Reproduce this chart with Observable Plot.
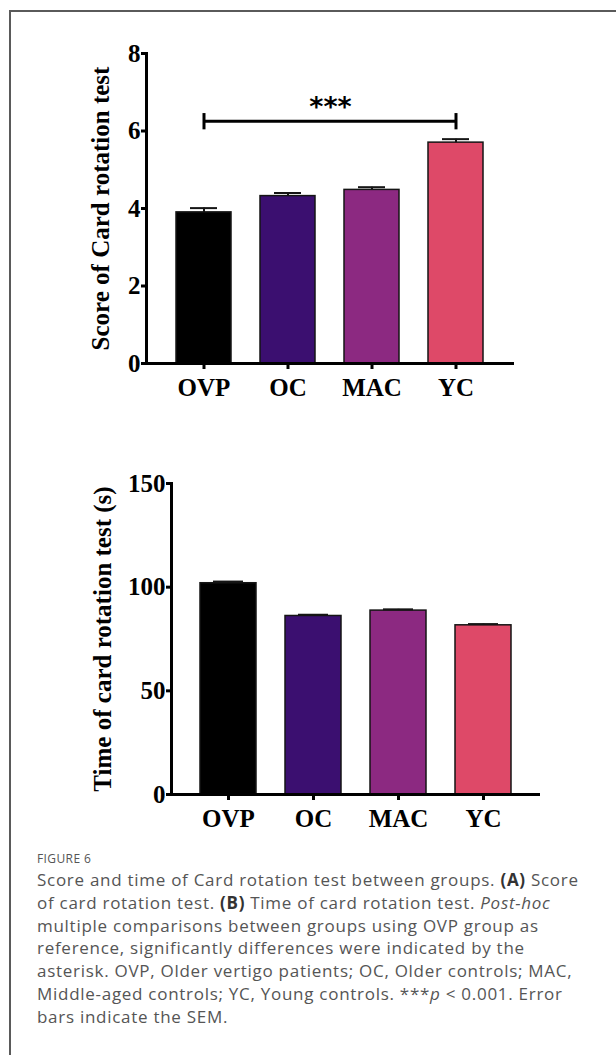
<!DOCTYPE html>
<html>
<head>
<meta charset="utf-8">
<script src="https://cdn.jsdelivr.net/npm/d3@7"></script>
<script src="https://cdn.jsdelivr.net/npm/@observablehq/plot@0.6"></script>
<style>
  html, body { margin: 0; padding: 0; background: #fff; }
  #page { position: relative; width: 616px; height: 1055px; overflow: hidden; background: #fff; }
  #frame { position: absolute; left: 9px; top: 10px; right: -10px; bottom: -10px;
           border-left: 2px solid #5a5a5a; border-top: 2px solid #5a5a5a; }
  #chartA { position: absolute; left: 0; top: 0; }
  #chartB { position: absolute; left: 0; top: 430px; }
  #caption { position: absolute; left: 37px; top: 850px; font-family: "Open Sans", sans-serif; color: #555; }
  #caption .fig { font-size: 12px; letter-spacing: 0.4px; color: #555; margin-bottom: 2px; }
  #caption .body { font-size: 17px; letter-spacing: 0.72px; line-height: 22.8px; white-space: nowrap; }
  #caption b { color: #333; }
</style>
</head>
<body>
<div id="page">
  <div id="frame"></div>
  <div id="chartA"></div>
  <div id="chartB"></div>
  <div id="caption">
    <div class="fig">FIGURE 6</div>
    <div class="body">
      Score and time of Card rotation test between groups. <b>(A)</b> Score<br>
      of card rotation test. <b>(B)</b> Time of card rotation test. <i>Post-hoc</i><br>
      multiple comparisons between groups using OVP group as<br>
      reference, significantly differences were indicated by the<br>
      asterisk. OVP, Older vertigo patients; OC, Older controls; MAC,<br>
      Middle-aged controls; YC, Young controls. ***<i>p</i> &lt; 0.001. Error<br>
      bars indicate the SEM.
    </div>
  </div>
</div>
<script>
// ---- data ----
const groups = ["OVP", "OC", "MAC", "YC"];
const groupColors = ["#000000", "#3b0f70", "#8c2981", "#de4968"];
const scoreMean = [3.90, 4.32, 4.48, 5.70];
const scoreSem = [0.11, 0.08, 0.07, 0.09];
const timeMean = [101.9, 86.1, 88.7, 81.6];
const timeSem = [0.8, 0.6, 0.6, 0.6];
const scoreTicks = [0, 2, 4, 6, 8];
const timeTicks = [0, 50, 100, 150];
const scoreTitle = "Score of Card rotation test";
const timeTitle = "Time of card rotation test (s)";
const sigFrom = "OVP", sigTo = "YC", sigLabel = "***";
const sigY = 6.25, sigY1 = 6.03, sigY2 = 6.45;

const serif = "'Liberation Serif', 'Times New Roman', serif";

function makeChart({means, sems, ticks, domain, title, marginLeft, marginRight, marginTop, marginBottom, titleDx, capInset, extra = []}) {
  const data = groups.map((g, i) => ({group: g, value: means[i], sem: sems[i]}));
  return Plot.plot({
    width: 616,
    height: 420,
    marginLeft, marginRight, marginTop, marginBottom,
    style: {fontFamily: serif, fontWeight: "bold", fontSize: "25px", color: "#000", background: "transparent", overflow: "visible"},
    x: {domain: groups, paddingInner: 0.34, paddingOuter: 0.335, label: null},
    y: {domain, label: null},
    color: {domain: groups, range: groupColors},
    marks: [
      Plot.barY(data, {x: "group", y: "value", fill: "group", stroke: "#151515", strokeWidth: 1.5}),
      Plot.ruleX(data, {x: "group", y1: "value", y2: d => d.value + d.sem, stroke: "#151515", strokeWidth: 2}),
      Plot.tickY(data, {x: "group", y: d => d.value + d.sem, insetLeft: capInset, insetRight: capInset, stroke: "#151515", strokeWidth: 2}),
      Plot.frame({anchor: "left", strokeWidth: 3, stroke: "#000"}),
      Plot.ruleY([0], {strokeWidth: 3, stroke: "#000"}),
      Plot.axisY({ticks, tickSize: 5, tickPadding: 1, strokeWidth: 3, fontSize: 25, fontWeight: "bold", fontFamily: serif, label: null}),
      Plot.axisX({tickSize: 6, tickPadding: 9, strokeWidth: 3, fontSize: 25, fontWeight: "bold", fontFamily: serif, label: null}),
      Plot.text([title], {text: d => d, frameAnchor: "left", rotate: -90, dx: titleDx, textAnchor: "middle", lineAnchor: "middle", fontSize: 25, fontWeight: "bold", fontFamily: serif}),
      ...extra
    ]
  });
}

const sigMarks = [
  Plot.link([{a: sigFrom, b: sigTo}], {x1: "a", x2: "b", y1: () => sigY, y2: () => sigY, stroke: "#000", strokeWidth: 3}),
  Plot.ruleX([sigFrom, sigTo], {x: d => d, y1: () => sigY1, y2: () => sigY2, stroke: "#000", strokeWidth: 3}),
  Plot.text([sigLabel], {text: d => d, frameAnchor: "top", y: () => sigY, dy: -5, lineAnchor: "bottom", fontSize: 27, fontWeight: "bold", fontFamily: "'DejaVu Sans', sans-serif"})
];

document.getElementById("chartA").append(makeChart({
  means: scoreMean, sems: scoreSem, ticks: scoreTicks, domain: [0, 8], title: scoreTitle,
  marginLeft: 146, marginRight: 102, marginTop: 53, marginBottom: 57, titleDx: -46, capInset: 14, extra: sigMarks
}));
document.getElementById("chartB").append(makeChart({
  means: timeMean, sems: timeSem, ticks: timeTicks, domain: [0, 150], title: timeTitle,
  marginLeft: 171, marginRight: 76, marginTop: 53, marginBottom: 56, titleDx: -69, capInset: 13
}));
</script>
</body>
</html>
